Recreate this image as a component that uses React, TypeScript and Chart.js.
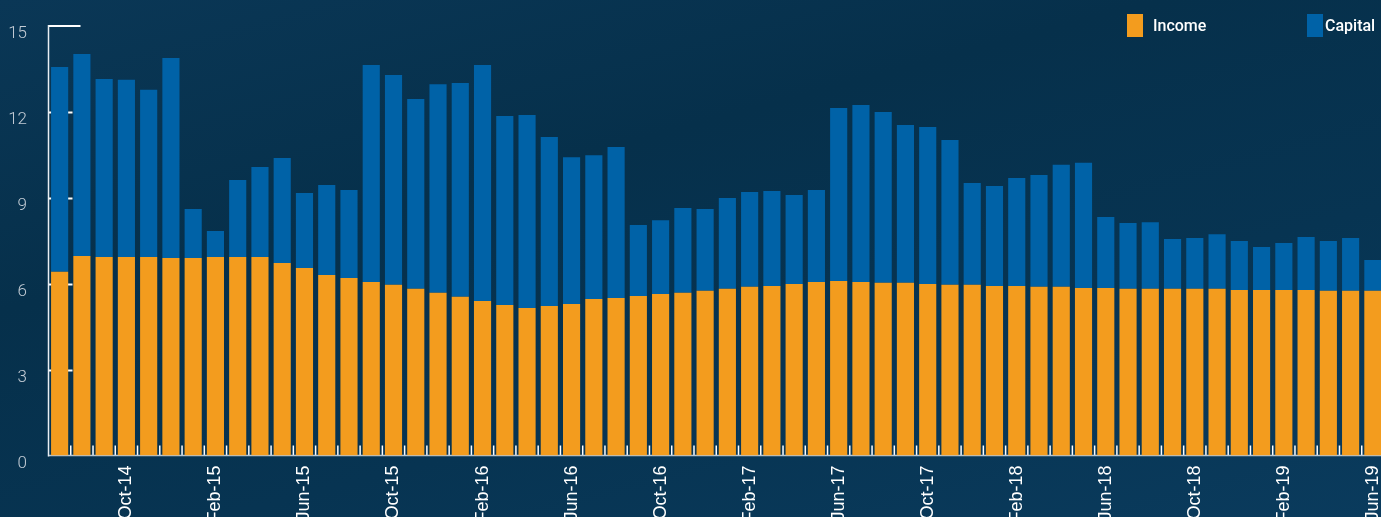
import React, { useEffect, useRef } from "react";
import { Chart, registerables } from "chart.js";

Chart.register(...registerables);

const months: string[] = [
  "Jul-14", "Aug-14", "Sep-14", "Oct-14", "Nov-14", "Dec-14",
  "Jan-15", "Feb-15", "Mar-15", "Apr-15", "May-15", "Jun-15",
  "Jul-15", "Aug-15", "Sep-15", "Oct-15", "Nov-15", "Dec-15",
  "Jan-16", "Feb-16", "Mar-16", "Apr-16", "May-16", "Jun-16",
  "Jul-16", "Aug-16", "Sep-16", "Oct-16", "Nov-16", "Dec-16",
  "Jan-17", "Feb-17", "Mar-17", "Apr-17", "May-17", "Jun-17",
  "Jul-17", "Aug-17", "Sep-17", "Oct-17", "Nov-17", "Dec-17",
  "Jan-18", "Feb-18", "Mar-18", "Apr-18", "May-18", "Jun-18",
  "Jul-18", "Aug-18", "Sep-18", "Oct-18", "Nov-18", "Dec-18",
  "Jan-19", "Feb-19", "Mar-19", "Apr-19", "May-19", "Jun-19",
];

const shownLabels: string[] = [
  "Oct-14", "Feb-15", "Jun-15", "Oct-15", "Feb-16", "Jun-16", "Oct-16",
  "Feb-17", "Jun-17", "Oct-17", "Feb-18", "Jun-18", "Oct-18", "Feb-19", "Jun-19",
];

const income: number[] = [
  6.42, 6.97, 6.93, 6.93, 6.93, 6.9, 6.9, 6.93, 6.93, 6.93,
  6.72, 6.55, 6.3, 6.2, 6.06, 5.96, 5.82, 5.68, 5.54, 5.4,
  5.26, 5.15, 5.22, 5.29, 5.47, 5.5, 5.57, 5.64, 5.68, 5.75,
  5.82, 5.89, 5.92, 5.99, 6.06, 6.09, 6.06, 6.03, 6.03, 5.99,
  5.96, 5.96, 5.92, 5.92, 5.89, 5.89, 5.85, 5.85, 5.82, 5.82,
  5.82, 5.82, 5.82, 5.78, 5.78, 5.78, 5.78, 5.75, 5.75, 5.75,
];

const capital: number[] = [
  7.15, 7.05, 6.22, 6.19, 5.84, 6.98, 1.71, 0.91, 2.69, 3.15,
  3.67, 2.62, 3.15, 3.07, 7.58, 7.33, 6.63, 7.29, 7.47, 8.24,
  6.6, 6.74, 5.9, 5.13, 5.02, 5.27, 2.48, 2.58, 2.96, 2.86,
  3.17, 3.31, 3.32, 3.11, 3.21, 6.05, 6.18, 5.97, 5.51, 5.48,
  5.06, 3.56, 3.49, 3.77, 3.91, 4.26, 4.37, 2.48, 2.3, 2.33,
  1.74, 1.78, 1.91, 1.71, 1.5, 1.64, 1.85, 1.74, 1.85, 1.08,
];

const yTickMarks: number[] = [3, 6, 9, 12];

const INCOME_COLOR = "#F39C1E";
const CAPITAL_COLOR = "#0062A7";

const axisDecor = {
  id: "axisDecor",
  beforeDatasetsDraw(chart: any) {
    const { ctx, chartArea, scales } = chart;
    const { left, right, top, bottom } = chartArea;
    const y = scales.y;
    const x = scales.x;
    ctx.save();
    ctx.strokeStyle = "#ffffff";
    ctx.lineWidth = 2;
    yTickMarks.forEach((v) => {
      const py = Math.round(y.getPixelForValue(v)) + 0.5;
      ctx.beginPath();
      ctx.moveTo(left, py);
      ctx.lineTo(left + 24, py);
      ctx.stroke();
    });
    ctx.beginPath();
    ctx.moveTo(left, top);
    ctx.lineTo(left + 32, top);
    ctx.stroke();
    ctx.lineWidth = 1.5;
    for (let i = 1; i < months.length; i++) {
      const gx = (x.getPixelForValue(i - 1) + x.getPixelForValue(i)) / 2;
      ctx.beginPath();
      ctx.moveTo(gx, bottom - 10);
      ctx.lineTo(gx, bottom);
      ctx.stroke();
    }
    ctx.strokeStyle = "#b9c6d2";
    ctx.lineWidth = 1.5;
    ctx.beginPath();
    ctx.moveTo(left, bottom);
    ctx.lineTo(right, bottom);
    ctx.stroke();
    ctx.strokeStyle = "#e8eef3";
    ctx.lineWidth = 1.5;
    ctx.beginPath();
    ctx.moveTo(left, top - 1);
    ctx.lineTo(left, bottom + 1);
    ctx.stroke();
    ctx.restore();
  },
};

const customLegend = {
  id: "customLegend",
  afterDraw(chart: any) {
    const { ctx } = chart;
    const boxX = [1127, 1307];
    const textX = [1153, 1325];
    ctx.save();
    chart.data.datasets.forEach((ds: any, i: number) => {
      ctx.fillStyle = ds.backgroundColor;
      ctx.fillRect(boxX[i], 14, 16, 23);
      ctx.fillStyle = "#ffffff";
      ctx.font = "500 16px Roboto, 'Noto Sans', sans-serif";
      ctx.textAlign = "left";
      ctx.textBaseline = "middle";
      ctx.fillText(ds.label, textX[i], 27);
    });
    ctx.restore();
  },
};

export default function App() {
  const canvasRef = useRef<HTMLCanvasElement | null>(null);

  useEffect(() => {
    document.body.style.margin = "0";
    document.body.style.overflow = "hidden";
    const canvas = canvasRef.current;
    if (!canvas) return;
    const chart = new Chart(canvas, {
      type: "bar",
      data: {
        labels: months,
        datasets: [
          {
            label: "Income",
            data: income,
            backgroundColor: INCOME_COLOR,
            borderWidth: 0,
          },
          {
            label: "Capital",
            data: capital,
            backgroundColor: CAPITAL_COLOR,
            borderWidth: 0,
          },
        ],
      },
      options: {
        responsive: false,
        animation: false,
        devicePixelRatio: 1,
        layout: { padding: { top: 26, left: 0, right: 0, bottom: 0 } },
        datasets: {
          bar: { barPercentage: 0.77, categoryPercentage: 1 },
        },
        plugins: {
          legend: { display: false },
          tooltip: { enabled: false },
        },
        scales: {
          x: {
            stacked: true,
            grid: { display: false, drawTicks: false },
            border: { display: false },
            afterFit: (scale: any) => {
              scale.height = 61.5;
              scale.paddingLeft = 0;
              scale.paddingRight = 0;
            },
            ticks: {
              autoSkip: false,
              maxRotation: 90,
              minRotation: 90,
              padding: 10,
              color: "#ffffff",
              font: { family: "'Liberation Sans', Arial, sans-serif", size: 18 },
              callback: (_v: any, i: number) =>
                shownLabels.includes(months[i]) ? months[i] : "",
            },
          },
          y: {
            stacked: true,
            min: 0,
            max: 15,
            grid: { display: false, drawTicks: false },
            border: { display: false },
            afterFit: (scale: any) => {
              scale.width = 48.5;
              scale.paddingTop = 0;
              scale.paddingBottom = 0;
            },
            ticks: {
              stepSize: 3,
              padding: 21.5,
              labelOffset: 8,
              color: "#c3ccd5",
              font: { family: "Roboto, 'Noto Sans', sans-serif", size: 17, weight: "300" },
            },
          },
        },
      },
      plugins: [axisDecor, customLegend],
    });
    return () => chart.destroy();
  }, []);

  return (
    <div
      style={{
        position: "fixed",
        left: 0,
        top: 0,
        width: "1384px",
        height: "517px",
        overflow: "hidden",
        background:
          "linear-gradient(165deg, #0a3756 0%, #06304b 35%, #073452 65%, #0a3b5d 100%)",
      }}
    >
      <canvas
        ref={canvasRef}
        width={1384}
        height={517}
        style={{ display: "block", width: "1384px", height: "517px" }}
      />
    </div>
  );
}
